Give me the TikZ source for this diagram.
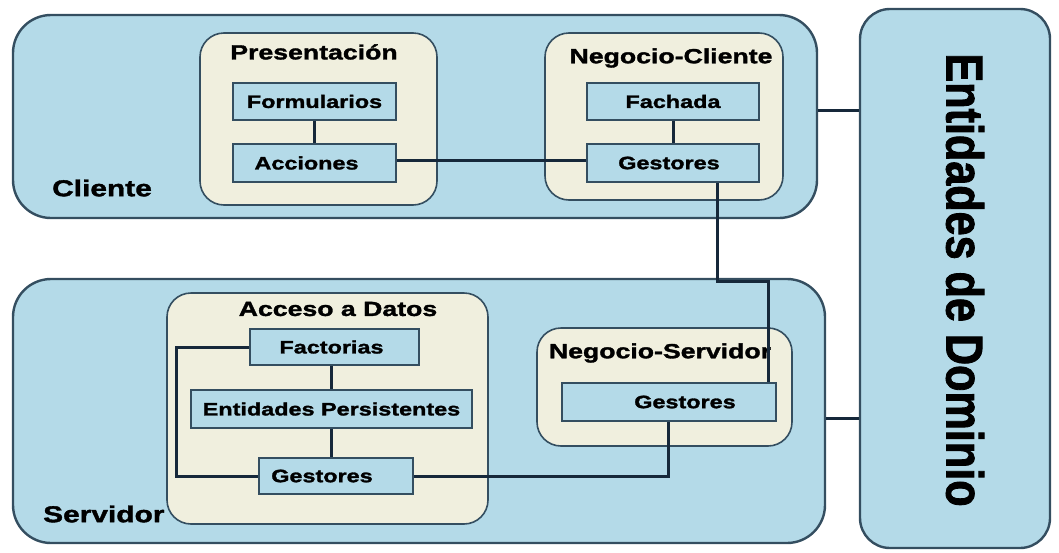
\documentclass[tikz,border=0pt]{standalone}
\usepackage{fontspec}
\setmainfont{Liberation Sans}[FakeStretch=1.3, BoldFeatures={FakeBold=1.6}]
\newfontfamily\vertfont{Liberation Sans}[FakeStretch=0.83, BoldFeatures={FakeBold=1.6}]
\usepackage{tikz}
\usetikzlibrary{positioning, calc}

\definecolor{azul}{RGB}{180,218,232}
\definecolor{crema}{RGB}{240,239,222}
\definecolor{borde}{RGB}{52,78,96}
\definecolor{linea}{RGB}{22,40,58}

\tikzset{
    capa/.style={draw=borde, line width=2.4pt, fill=azul, rounded corners=38pt, inner sep=0pt},
    modulo/.style={draw=borde, line width=1.6pt, fill=crema, rounded corners=24pt, inner sep=0pt},
    caja/.style={draw=borde, line width=1.6pt, fill=azul, inner sep=0pt, font=\bfseries\fontsize{18}{20}\selectfont},
    titulo/.style={inner sep=0pt, font=\bfseries\fontsize{20.5}{24}\selectfont},
    etiqueta/.style={inner sep=0pt, anchor=west, font=\bfseries\fontsize{23}{26}\selectfont},
    enlace/.style={draw=linea, line width=3pt}
}

\begin{document}
\begin{tikzpicture}[x=1pt, y=-1pt]
        \useasboundingbox (0,0) rectangle (1059,552);
        \node[capa, minimum width=804pt, minimum height=203pt] (cli) at (415,116.5) {};
        \node[capa, minimum width=812pt, minimum height=264pt] (srv) at (419,411) {};
        \node[capa, rounded corners=30pt, minimum width=190pt, minimum height=539pt] (ent) at (955,278.5) {};
        \node[rotate=-90, inner sep=0pt, font=\vertfont\bfseries\fontsize{52}{56}\selectfont] (entT) at (965,280) {Entidades de Dominio};
        %---------------------------
        \node[modulo, minimum width=237pt, minimum height=172pt] (pres) at (318.5,119) {};
        \node[modulo, minimum width=238pt, minimum height=167pt] (negc) at (664,116.5) {};
        \node[modulo, minimum width=321pt, minimum height=231pt] (datos) at (327.5,408.5) {};
        \node[modulo, minimum width=255pt, minimum height=118pt] (negs) at (664.5,387) {};
        \node[titulo] (presT) at (314,52) {Presentación};
        \node[titulo] (negcT) at (671,58) {Negocio-Cliente};
        \node[titulo] (datosT) at (338,309) {Acceso a Datos};
        \node[titulo] (negsT) at (660,353) {Negocio-Servidor};
        \node[etiqueta] (cliT) at (52,188) {Cliente};
        \node[etiqueta] (srvT) at (43,514) {Servidor};
        %---------------------------
        \node[caja, minimum width=163pt, minimum height=37pt] (form) at (314.5,101.5) {Formularios};
        \node[caja, minimum width=163pt, minimum height=38pt] (acc) at (314.5,163) {Acciones\kern16pt};
        \node[caja, minimum width=172pt, minimum height=37pt] (fach) at (673,101.5) {Fachada};
        \node[caja, minimum width=172pt, minimum height=38pt] (gesc) at (673,163) {Gestores\kern8pt};
        \node[caja, minimum width=169pt, minimum height=36pt] (fact) at (334.5,347) {Factorias\kern6pt};
        \node[caja, minimum width=281pt, minimum height=38pt] (pers) at (331.5,409) {Entidades Persistentes};
        \node[caja, minimum width=154pt, minimum height=36pt] (gesd) at (336,476) {Gestores\kern28pt};
        \node[caja, minimum width=214pt, minimum height=38pt] (gess) at (669,402) {\kern32pt Gestores};
        %--------------------------
        \path[enlace]
        (form) edge (acc)
        (fach) edge (gesc)
        (pers.north) edge (pers.north |- fact.south)
        (pers.south) edge (pers.south |- gesd.north)
        (acc.east |- 0,160) edge (gesc.west |- 0,160)
        (cli.east |- 0,110) edge (ent.west |- 0,110)
        (srv.east |- 0,418) edge (ent.west |- 0,418);
        \draw[enlace] (fact.west) -- ++(-73,0) |- (gesd.west);
        \draw[enlace] (gesd.east) -| (gess.south -| 668,0);
        \draw[enlace] (gesc.south -| 717,0) |- (768,281) -- (gess.north -| 768,0);
\end{tikzpicture}
\end{document}
